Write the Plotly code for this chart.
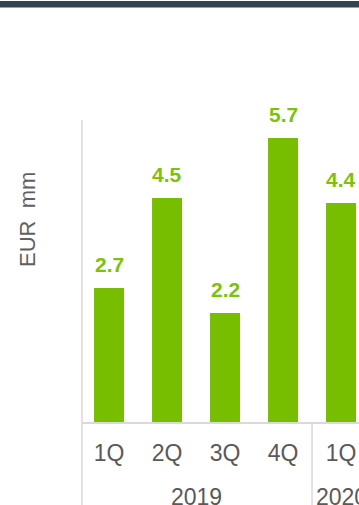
import plotly.graph_objects as go

quarters = ["1Q", "2Q", "3Q", "4Q", "1Q"]
years = ["2019", "2019", "2019", "2019", "2020"]
values = [2.7, 4.5, 2.2, 5.7, 4.4]
value_labels = ["2.7", "4.5", "2.2", "5.7", "4.4"]
year_groups = ["2019", "2020"]
y_title = "EUR\u00a0 mm"

W, H = 359, 505
L, T, B = 82, 120, 82
PW = W - L
PH = H - T - B

def px2paper_x(px):
    return (px - L) / PW

def px2paper_y(py):
    return (H - B - py) / PH

GREEN = "#78be00"
LABEL_GREEN = "#7cc20a"
GRAY_TXT = "#595959"
LINE = "#d9d9d9"
FONT = "Liberation Sans, Arial, sans-serif"

xs = list(range(len(values)))

fig = go.Figure()
fig.add_trace(go.Bar(x=xs, y=values, width=0.517, marker=dict(color=GREEN, line=dict(width=0)),
                     hoverinfo="skip"))

annotations = []
for x, v, t in zip(xs, values, value_labels):
    annotations.append(dict(x=x, y=v, xref="x", yref="y", text=f"<b>{t}</b>", showarrow=False,
                            yanchor="middle", yshift=24,
                            font=dict(family=FONT, size=21, color=LABEL_GREEN)))

for yr in year_groups:
    idx = [i for i, y in enumerate(years) if y == yr]
    cx = (idx[0] + idx[-1]) / 2
    annotations.append(dict(x=cx, y=px2paper_y(497), xref="x", yref="paper", text=yr, showarrow=False,
                            yanchor="middle", font=dict(family=FONT, size=23, color=GRAY_TXT)))

annotations.append(dict(x=px2paper_x(27), y=px2paper_y(220), xref="paper", yref="paper", text=y_title,
                        textangle=-90, showarrow=False, xanchor="center", yanchor="middle",
                        font=dict(family=FONT, size=22, color="#606060")))

shapes = [
    dict(type="rect", xref="paper", yref="paper", x0=px2paper_x(0), x1=px2paper_x(W),
         y0=px2paper_y(7.5), y1=px2paper_y(1), fillcolor="#37434e", line=dict(width=0), layer="above"),
    dict(type="line", xref="paper", yref="paper", x0=0, x1=0, y0=px2paper_y(505), y1=1,
         line=dict(color=LINE, width=1.5)),
    dict(type="line", xref="paper", yref="paper", x0=0, x1=1, y0=0, y1=0,
         line=dict(color=LINE, width=2)),
]
for i in range(1, len(years)):
    if years[i] != years[i - 1]:
        shapes.append(dict(type="line", xref="x", yref="paper", x0=i - 0.5, x1=i - 0.5,
                           y0=px2paper_y(505), y1=0, line=dict(color=LINE, width=1.5)))

fig.update_layout(
    width=W, height=H,
    margin=dict(l=L, r=0, t=T, b=B, pad=0),
    paper_bgcolor="white", plot_bgcolor="white",
    showlegend=False,
    annotations=annotations,
    shapes=shapes,
    xaxis=dict(range=[-0.466, 4.31], tickvals=xs, ticktext=quarters, showgrid=False,
               zeroline=False, showline=False, ticks="",
               tickfont=dict(family=FONT, size=23, color=GRAY_TXT), ticklabelstandoff=14),
    yaxis=dict(range=[0, 6.06], visible=False, showgrid=False, zeroline=False),
)

fig.write_html("out.html", config={"displayModeBar": False},
               post_script="document.body.style.margin='0';document.body.style.overflow='hidden';")
